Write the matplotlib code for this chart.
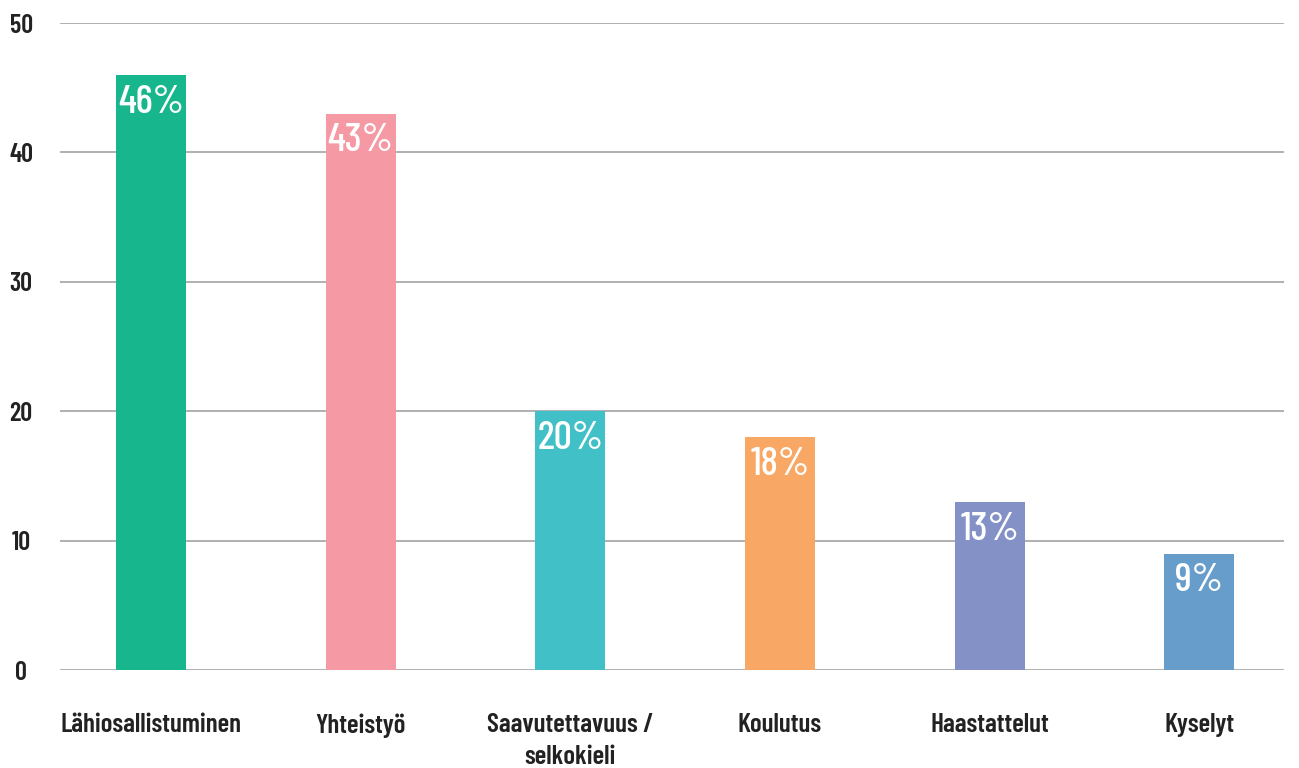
import matplotlib.pyplot as plt

categories = ["Lähiosallistuminen", "Yhteistyö", "Saavutettavuus /\nselkokieli",
              "Koulutus", "Haastattelut", "Kyselyt"]
values = [46, 43, 20, 18, 13, 9]
labels = ["46%", "43%", "20%", "18%", "13%", "9%"]
colors = ["#17b68c", "#f599a4", "#42c0c7", "#f8a864", "#8491c6", "#679dcb"]
yticks = [0, 10, 20, 30, 40, 50]

plt.rcParams['font.family'] = ['Barlow Condensed', 'DejaVu Sans']

fig = plt.figure(figsize=(12.99, 7.68), dpi=100)
ax = fig.add_axes([0.0462, 0.1276, 0.9423, 0.8424])

x = list(range(len(categories)))
bars = ax.bar(x, values, width=0.334, color=colors, zorder=3)

# percentage labels inside the top of each bar
for b, lab in zip(bars, labels):
    ax.annotate(lab, (b.get_x() + b.get_width() / 2, b.get_height()),
                xytext=(0, -7), textcoords='offset points',
                ha='center', va='top', color='white', fontsize=29, fontweight=500, zorder=4)

ax.set_xlim(-0.434, 5.405)
ax.set_ylim(0, 50)
ax.set_yticks(yticks)
ax.set_yticklabels([str(v) for v in yticks], fontsize=19, fontweight=600, color='#222222')
ax.set_xticks(x)
ax.set_xticklabels(categories, fontsize=19.5, fontweight=600, color='#222222', linespacing=1.4, va='top')
ax.tick_params(axis='both', length=0)
ax.tick_params(axis='x', pad=31)
ax.tick_params(axis='y', pad=28)
for lab in ax.get_yticklabels():
    lab.set_horizontalalignment('center')

ax.grid(axis='y', color='#aaaaaa', linewidth=1.3, zorder=0)
for s in ax.spines.values():
    s.set_visible(False)

fig.savefig("out.png", dpi=100)
